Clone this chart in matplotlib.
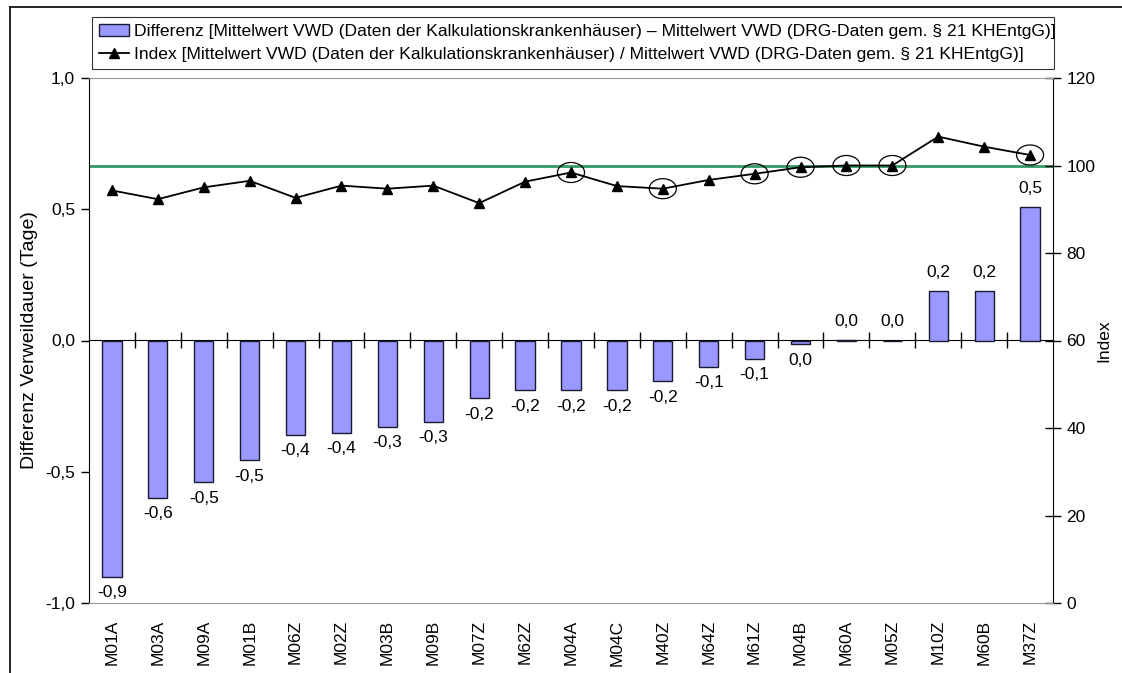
#!/usr/bin/env python3

import matplotlib
matplotlib.use('Agg')
import matplotlib.pyplot as plt
from matplotlib.path import Path
from matplotlib.transforms import Affine2D
from matplotlib.ticker import FuncFormatter, NullFormatter
from matplotlib.lines import Line2D

# DRG codes, sorted by difference
drgs = ['M01A', 'M03A', 'M09A', 'M01B', 'M06Z', 'M02Z', 'M03B', 'M09B', 'M07Z',
        'M62Z', 'M04A', 'M04C', 'M40Z', 'M64Z', 'M61Z', 'M04B', 'M60A', 'M05Z',
        'M10Z', 'M60B', 'M37Z']

# difference of mean length of stay (days)
diff = [-0.90, -0.60, -0.54, -0.456, -0.36, -0.353, -0.33, -0.31, -0.22,
        -0.19, -0.19, -0.19, -0.155, -0.10, -0.07, -0.015, 0.003, 0.0,
        0.19, 0.19, 0.51]

# index (ratio * 100)
index = [94.3, 92.3, 95.0, 96.5, 92.6, 95.4, 94.7, 95.4, 91.4,
         96.3, 98.4, 95.3, 94.7, 96.7, 98.1, 99.6, 100.0, 100.0,
         106.6, 104.3, 102.4]

# points that are circled in the original
circled = ['M04A', 'M40Z', 'M61Z', 'M04B', 'M60A', 'M05Z', 'M37Z']

ref_index = 100

label_diff = ('Differenz [Mittelwert VWD (Daten der Kalkulationskrankenhäuser) – '
              'Mittelwert VWD (DRG-Daten gem. § 21 KHEntgG)]')
label_index = ('Index [Mittelwert VWD (Daten der Kalkulationskrankenhäuser) / '
               'Mittelwert VWD (DRG-Daten gem. § 21 KHEntgG)]')


def comma(v, pos=None):
    s = '%.1f' % v
    if s == '-0.0':
        s = '0.0'
    return s.replace('.', ',')


def main():
    plt.rcParams['font.family'] = ['Liberation Sans', 'DejaVu Sans']
    plt.rcParams['font.size'] = 12.5

    W, H = 1122, 673
    fig = plt.figure(figsize=(W / 100, H / 100), dpi=100)
    ax = fig.add_axes([89 / W, 1 - 603 / H, (1053 - 89) / W, (603 - 78) / H])
    ax2 = ax.twinx()
    ax.set_zorder(ax2.get_zorder() + 1)
    ax.patch.set_visible(False)

    x = list(range(len(drgs)))
    ax.bar(x, diff, width=0.42, color='#9999ff', edgecolor='#1a1a33',
           linewidth=1.0, zorder=3)

    for xi, v in zip(x, diff):
        if v < 0:
            ax.annotate(comma(v), (xi, v), xytext=(0, -6), textcoords='offset points',
                        ha='center', va='top')
        else:
            ax.annotate(comma(v), (xi, v), xytext=(0, 8), textcoords='offset points',
                        ha='center', va='bottom')

    ax.set_xlim(-0.5, len(drgs) - 0.5)
    ax.set_ylim(-1.0, 1.0)
    ax.set_yticks([-1.0, -0.5, 0.0, 0.5, 1.0])
    ax.yaxis.set_major_formatter(FuncFormatter(comma))
    ax.set_xticks(x)
    ax.set_xticklabels(drgs, rotation=90)
    ax.tick_params(axis='x', length=0, pad=12)
    ax.tick_params(axis='y', direction='out', length=6, width=1, pad=4)
    ax.set_ylabel('Differenz Verweildauer (Tage)', fontsize=14, labelpad=5)
    for s in ['top', 'bottom']:
        ax.spines[s].set_color('#999999')
    ax.spines['left'].set_color('black')
    ax.spines['right'].set_visible(False)

    # zero line with category separators
    zero = ax.secondary_xaxis(0.5)
    zero.spines['bottom'].set_color('#888888')
    zero.set_xticks([i + 0.5 for i in x[:-1]])
    zero.xaxis.set_major_formatter(NullFormatter())
    zero.tick_params(direction='inout', length=11, width=1)

    # index line on right axis
    ax2.set_ylim(0, 120)
    ax2.set_yticks(range(0, 121, 20))
    ax2.tick_params(axis='y', direction='inout', length=11, width=1, pad=4)
    ax2.set_ylabel('Index', labelpad=1)
    ax2.spines['right'].set_color('black')
    for s in ['top', 'bottom', 'left']:
        ax2.spines[s].set_visible(False)

    ax2.axhline(ref_index, color='#339966', linewidth=2.0, zorder=1)
    ax.plot(x, [(v - 60) / 60 for v in index], color='black', linewidth=1.3,
            marker='^', markersize=7, zorder=5)

    ellipse = Path.unit_circle().transformed(Affine2D().scale(1.35, 1.0))
    cx = [drgs.index(d) for d in circled]
    cy = [(index[i] - 60) / 60 for i in cx]
    ax.scatter(cx, cy, s=27 ** 2 * 0.52, marker=ellipse, facecolors='none',
               edgecolors='black', linewidths=0.9, zorder=6)

    handles = [
        plt.Rectangle((0, 0), 1, 1, facecolor='#9999ff', edgecolor='#1a1a33', linewidth=1.0),
        Line2D([], [], color='black', linewidth=1.3, marker='^', markersize=7),
    ]
    leg = fig.legend(handles, [label_diff, label_index], loc='lower left',
                     bbox_to_anchor=(92 / W, 1 - 69 / H, (1054 - 92) / W, (69 - 13) / H),
                     mode='expand', fancybox=False, frameon=True, fontsize=12.6,
                     handlelength=1.7, handletextpad=0.3, borderaxespad=0,
                     labelspacing=0.45, borderpad=0.4)
    leg.get_frame().set_edgecolor('black')
    leg.get_frame().set_linewidth(0.8)

    # outer frame (left and top only visible)
    fig.add_artist(Line2D([10 / W, 10 / W], [0, 1 - 7 / H], transform=fig.transFigure,
                          color='black', linewidth=1.2))
    fig.add_artist(Line2D([10 / W, 1], [1 - 7 / H, 1 - 7 / H], transform=fig.transFigure,
                          color='black', linewidth=1.2))

    fig.savefig('out.png', dpi=100)


if __name__ == '__main__':
    main()
